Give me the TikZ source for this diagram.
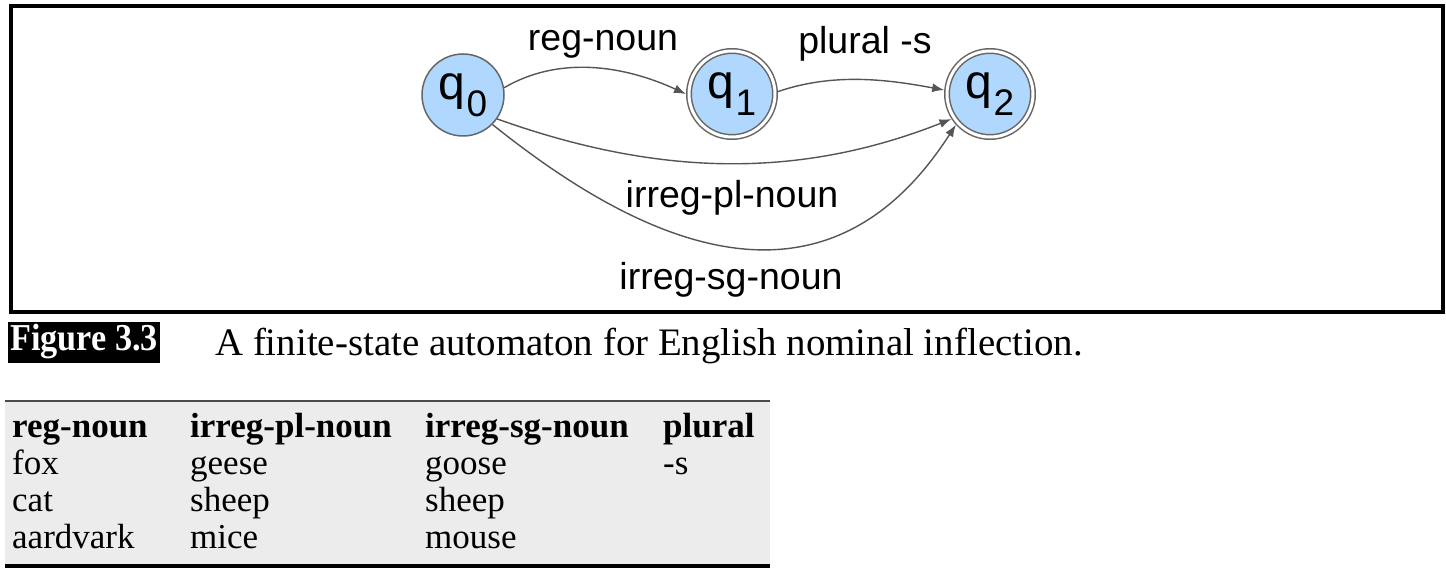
\documentclass[tikz,border=0pt]{standalone}
\usepackage{fontspec}
\setmainfont{Liberation Serif}
\newfontfamily\arialf{Liberation Sans}
\usetikzlibrary{arrows.meta}
\definecolor{stateblue}{HTML}{B0D8FF}
\definecolor{edgegray}{HTML}{555555}
\definecolor{ringgray}{HTML}{666666}
\definecolor{tablegray}{HTML}{ECECEC}
\begin{document}
\begin{tikzpicture}[x=1pt,y=-1pt,
  state/.style={circle, fill=stateblue, draw=ringgray, line width=1.5pt, inner sep=0pt, minimum size=82pt},
  accstate/.style={circle, fill=stateblue, draw=ringgray, line width=1.5pt, double=white, double distance=3pt, inner sep=0pt, minimum size=86pt, outer sep=3pt},
  edge/.style={draw=edgegray, line width=1.4pt, -{Latex[length=12pt,width=9pt]}},
  elabel/.style={font=\arialf\fontsize{37.5}{40}\selectfont, inner sep=0pt},
  cell/.style={anchor=base west, inner sep=0pt, font=\fontsize{35}{38}\selectfont},
  hcell/.style={cell, font=\bfseries\fontsize{35}{38}\selectfont}
]
\useasboundingbox (0,0) rectangle (1446,580);
\fill[white] (0,0) rectangle (1446,580);
% frame
\draw[line width=4pt, black] (11,6) rectangle (1443,312);
% states
\newcommand{\qlab}[1]{{\arialf\fontsize{48}{48}\selectfont q\kern1pt\raisebox{-17pt}{\fontsize{37}{37}\selectfont #1}}}
\node[state] (q0) at (463,95) {\qlab{0}};
\node[accstate] (q1) at (732,94) {\qlab{1}};
\node[accstate] (q2) at (990,94) {\qlab{2}};
% edges
\draw[edge] (q0.10) .. controls (560,55) and (625,66) .. (q1.180);
\draw[edge] (q1.3) .. controls (835,72) and (890,80) .. (q2.175);
\draw[edge] (q0.-35) .. controls (662,178) and (802,178) .. (q2.213);
\draw[edge] (q0.-45) .. controls (640,243) and (824,330) .. (q2.222);
% edge labels
\node[elabel] (lreg) at (603,44) {reg-noun};
\node[elabel] (lpl) at (865,44) {plural -s};
\node[elabel] (lipl) at (732,198) {irreg-pl-noun};
\node[elabel] (lisg) at (731,280) {irreg-sg-noun};
% caption
\node[fill=black, text=white, font=\bfseries\fontsize{38}{38}\selectfont, minimum width=152pt, minimum height=41pt, inner sep=0pt] (figlabel) at (84,342) {\scalebox{0.9}[1]{Figure 3.3}};
\node[anchor=base west, inner sep=0pt, font=\fontsize{38.9}{40}\selectfont] (caption) at (215,355) {A finite-state automaton for English nominal inflection.};
% table
\fill[tablegray] (5,402) rectangle (770,566);
\draw[line width=2pt, black!70] (5,401) -- (770,401);
\draw[line width=4.5pt, black] (5,566) -- (770,566);
\node[hcell] (h1) at (12,437) {reg-noun};
\node[hcell] (h2) at (190,437) {irreg-pl-noun};
\node[hcell] (h3) at (425,437) {irreg-sg-noun};
\node[hcell] (h4) at (663,437) {plural};
\node[cell] (a1) at (12,474) {fox};
\node[cell] (a2) at (190,474) {geese};
\node[cell] (a3) at (425,474) {goose};
\node[cell] (a4) at (663,474) {-s};
\node[cell] (b1) at (12,511) {cat};
\node[cell] (b2) at (190,511) {sheep};
\node[cell] (b3) at (425,511) {sheep};
\node[cell] (c1) at (12,548) {aardvark};
\node[cell] (c2) at (190,548) {mice};
\node[cell] (c3) at (425,548) {mouse};
\end{tikzpicture}
\end{document}
